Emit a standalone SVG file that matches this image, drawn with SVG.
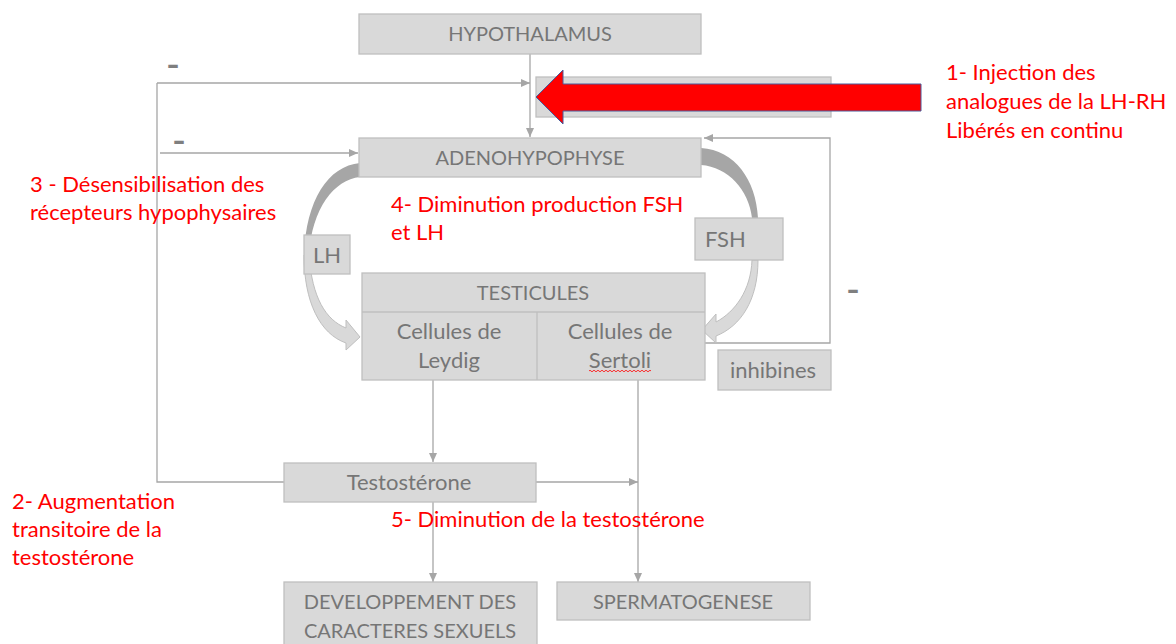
<svg xmlns="http://www.w3.org/2000/svg" width="1176" height="644" viewBox="0 0 1176 644">
<defs>
<style>
.box{fill:#d9d9d9;stroke:#bfbfbf;stroke-width:1.3}
.t{font-family:Lato,"Liberation Sans",sans-serif;font-size:22px;fill:#767676;text-anchor:middle}
.c{font-family:Lato,"Liberation Sans",sans-serif;font-size:20px;fill:#767676;text-anchor:middle}
.tl{font-family:Lato,"Liberation Sans",sans-serif;font-size:22px;fill:#767676}
.r{font-family:Lato,"Liberation Sans",sans-serif;font-size:22px;fill:#ff0000}
.ln{fill:none;stroke:#a6a6a6;stroke-width:1.3}
.minus{font-family:"DejaVu Sans",sans-serif;font-size:24px;font-weight:bold;fill:#7f7f7f}
</style>
<marker id="ah" markerUnits="userSpaceOnUse" markerWidth="10" markerHeight="8" refX="9" refY="4" orient="auto">
<path d="M0,0 L9,4 L0,8 Z" fill="#a6a6a6"/>
</marker>
</defs>
<rect width="1176" height="644" fill="#ffffff"/>
<g id="connectors">
<path class="ln" d="M530,54 V137" marker-end="url(#ah)"/>
<path class="ln" d="M157,83 H530" marker-end="url(#ah)"/>
<path class="ln" d="M157,83 V482 H284"/>
<path class="ln" d="M160,153 H358" marker-end="url(#ah)"/>
<path class="ln" d="M705,343 H830 V138 H704" marker-end="url(#ah)"/>
<path class="ln" d="M433,380 V462" marker-end="url(#ah)"/>
<path class="ln" d="M638,380 V582" marker-end="url(#ah)"/>
<path class="ln" d="M536,482 H638" marker-end="url(#ah)"/>
<path class="ln" d="M433,501 V582" marker-end="url(#ah)"/>
<g id="lh-arrow">
<path d="M360,163 C328,166 306,200 304,255 L309,255 C312,208 334,180 360,177 Z" fill="#a6a6a6"/>
<path d="M304,255 C304,302 320,334 346,343 L346,350 L360,337 L346,320 L346,328 C326,320 312,298 309,255 Z" fill="#d9d9d9" stroke="#bfbfbf" stroke-width="1"/>
</g>
<g id="fsh-arrow">
<path d="M701,148 C735,150 756,180 758,218 L752,218 C749,190 728,167 701,165 Z" fill="#a6a6a6"/>
<path d="M758,260 C758,300 741,326 716,336 L716,343 L702,330 L716,314 L716,322 C735,312 751,290 752,260 Z" fill="#d9d9d9" stroke="#bfbfbf" stroke-width="1"/>
</g>
</g>
<g id="hypothalamus">
<rect class="box" x="359" y="14" width="342" height="40"/>
<text class="c" x="530" y="41">HYPOTHALAMUS</text>
</g>
<g id="lhrh-box">
<rect class="box" x="536" y="77" width="295" height="40"/>
</g>
<g id="injection-arrow">
<path d="M536,97 L563,70 L563,84 L921,84 L921,111 L563,111 L563,124 Z" fill="#ff0000" stroke="#4a5a9a" stroke-width="1"/>
</g>
<g id="adenohypophyse">
<rect class="box" x="359" y="138" width="342" height="39"/>
<text class="c" x="530" y="165">ADENOHYPOPHYSE</text>
</g>
<g id="lh">
<rect class="box" x="304" y="235" width="46" height="39"/>
<text class="t" x="327" y="263">LH</text>
</g>
<g id="fsh">
<rect class="box" x="695" y="218" width="88" height="42"/>
<text class="tl" x="705" y="247">FSH</text>
</g>
<g id="testicules">
<rect class="box" x="362" y="273" width="343" height="107"/>
<line x1="362" y1="312" x2="705" y2="312" stroke="#bfbfbf" stroke-width="1.3"/>
<line x1="537" y1="312" x2="537" y2="380" stroke="#bfbfbf" stroke-width="1.3"/>
<text class="c" x="533" y="300">TESTICULES</text>
</g>
<g id="leydig">
<text class="t" x="449" y="339">Cellules de</text>
<text class="t" x="449" y="368">Leydig</text>
</g>
<g id="sertoli">
<text class="t" x="620" y="339">Cellules de</text>
<text class="t" x="620" y="368">Sertoli</text>
<path d="M589,371 q1,-1.6 2,0 t2,0 t2,0 t2,0 t2,0 t2,0 t2,0 t2,0 t2,0 t2,0 t2,0 t2,0 t2,0 t2,0 t2,0 t2,0 t2,0 t2,0 t2,0 t2,0 t2,0 t2,0 t2,0 t2,0 t2,0 t2,0 t2,0 t2,0 t2,0 t2,0 t2,0" fill="none" stroke="#ff0000" stroke-width="0.8"/>
</g>
<g id="inhibines">
<rect class="box" x="718" y="350" width="113" height="40"/>
<text class="t" x="773" y="378">inhibines</text>
</g>
<g id="testosterone">
<rect class="box" x="284" y="463" width="252" height="39"/>
<text class="t" x="409" y="490">Testostérone</text>
</g>
<g id="developpement">
<rect class="box" x="284" y="582" width="253" height="70"/>
<text class="c" x="410" y="609">DEVELOPPEMENT DES</text>
<text class="c" x="410" y="638">CARACTERES SEXUELS</text>
</g>
<g id="spermatogenese">
<rect class="box" x="557" y="582" width="253" height="38"/>
<text class="c" x="683" y="609">SPERMATOGENESE</text>
</g>
<g id="minus-signs">
<text class="minus" x="167" y="73">–</text>
<text class="minus" x="173" y="149">–</text>
<text class="minus" x="847" y="298">–</text>
</g>
<g id="annotations">
<text class="r" x="946" y="80">1- Injection des</text>
<text class="r" x="946" y="109">analogues de la LH-RH</text>
<text class="r" x="946" y="138">Libérés en continu</text>
<text class="r" x="12" y="509">2- Augmentation</text>
<text class="r" x="12" y="537">transitoire de la</text>
<text class="r" x="12" y="565">testostérone</text>
<text class="r" x="30" y="192">3 - Désensibilisation des</text>
<text class="r" x="30" y="220">récepteurs hypophysaires</text>
<text class="r" x="391" y="212">4- Diminution production FSH</text>
<text class="r" x="391" y="240">et LH</text>
<text class="r" x="391" y="527">5- Diminution de la testostérone</text>
</g>
</svg>
